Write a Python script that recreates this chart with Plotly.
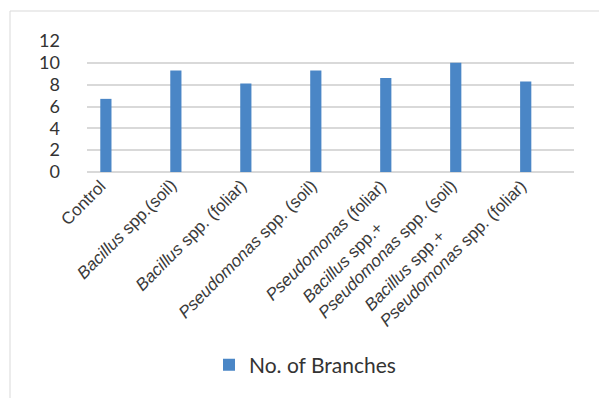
import plotly.graph_objects as go

categories = [
    "Control",
    "<i>Bacillus</i> spp.(soil)",
    "<i>Bacillus</i> spp. (foliar)",
    "<i>Pseudomonas</i> spp. (soil)",
    "<i>Pseudomonas</i> (foliar)",
    "<i>Bacillus</i> spp.+<br><i>Pseudomonas</i> spp. (soil)",
    "<i>Bacillus</i> spp.+<br><i>Pseudomonas</i> spp. (foliar)",
]
branches = [6.7, 9.3, 8.1, 9.3, 8.6, 10.0, 8.3]
y_ticks = [0, 2, 4, 6, 8, 10, 12]
series_name = "No. of Branches"

W, H = 599, 398
L, R, T, B = 87, 25, 41, 226
pw, ph = W - L - R, H - T - B
LABEL_SIZE = 17
LINE_H = LABEL_SIZE * 1.3

fig = go.Figure()
fig.add_trace(go.Bar(
    x=list(range(len(categories))), y=branches, name=series_name,
    marker=dict(color="#4a86c6", line=dict(width=0)),
    width=0.16, showlegend=True,
))

annotations = []
for i, lab in enumerate(categories):
    n_lines = lab.count("<br>") + 1
    h = n_lines * LINE_H + 4
    ypx = 192 - 0.707 * h
    annotations.append(dict(
        text=lab, x=i, xref="x", xshift=7, xanchor="right",
        y=(T + ph - ypx) / ph, yref="paper", yanchor="top",
        textangle=-45, align="left", showarrow=False,
        font=dict(family="Liberation Sans, Arial", size=LABEL_SIZE, color="#3a3a3a"),
    ))

fig.update_layout(
    width=W, height=H,
    margin=dict(l=L, r=R, t=T, b=B),
    paper_bgcolor="white", plot_bgcolor="white",
    xaxis=dict(
        tickmode="array", tickvals=list(range(len(categories))),
        range=[-0.27, 6.69], showticklabels=False, showgrid=False, zeroline=False,
        showline=False, ticks="",
    ),
    yaxis=dict(
        range=[0, 12], tickmode="array", tickvals=y_ticks,
        showgrid=True, gridcolor="#d9d9d9", gridwidth=1.5,
        zeroline=True, zerolinecolor="#d9d9d9", zerolinewidth=1.5,
        showline=False, ticks="", ticklabelstandoff=26,
        tickfont=dict(family="Lato, Open Sans", size=18, color="#333333"),
    ),
    legend=dict(
        orientation="h", x=(305 - L) / pw, xanchor="center",
        y=(ph - (365 - T)) / ph, yanchor="middle",
        font=dict(family="Lato, Open Sans", size=21, color="#333333"),
    ),
    annotations=annotations,
    shapes=[dict(type="rect", xref="paper", yref="paper",
                 x0=(10 - L) / pw, x1=1.2, y0=-2.2, y1=(ph + (T - 11)) / ph,
                 line=dict(color="#d9d9d9", width=1), fillcolor="rgba(0,0,0,0)", layer="below")],
)

fig.write_html("out.html")
